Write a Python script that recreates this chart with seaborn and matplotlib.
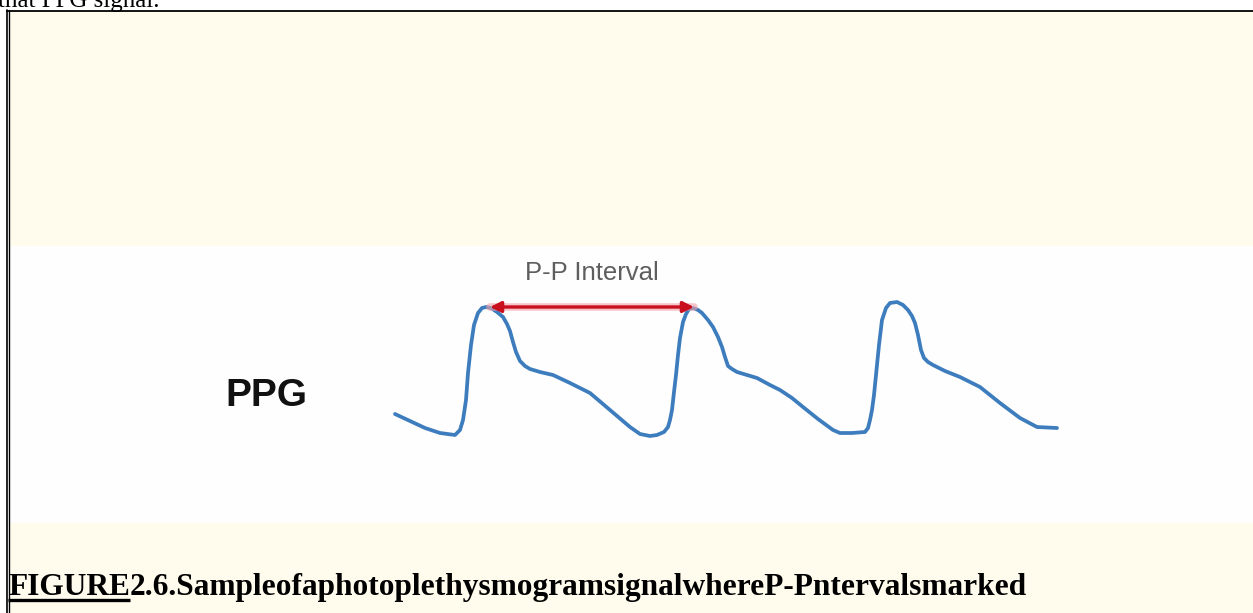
import pandas as pd
import matplotlib.pyplot as plt
import matplotlib.patches as mpatches
import seaborn as sns

# PPG trace (pixel space of the page, y grows downward)
ppg_x = [395, 410, 425, 440, 455, 460, 463, 466, 468, 471, 474, 478, 482, 486, 491,
         497, 503, 507, 510, 513, 516, 520, 525, 530, 540, 553, 570, 590, 610, 630,
         640, 650, 657, 664, 668, 670, 672, 674, 676, 678, 680, 683, 686, 689, 693,
         698, 702, 708, 713, 718, 722, 725, 728, 732, 737, 747, 757, 770, 780, 792,
         803, 818, 833, 840, 852, 865, 868, 870, 872, 874, 876, 879, 882, 886, 890,
         897, 903, 908, 912, 915, 918, 921, 924, 928, 933, 945, 960, 980, 1000, 1020,
         1037, 1057]
ppg_y = [414, 421, 428, 433, 435, 430, 420, 400, 373, 345, 325, 313, 308, 307, 308,
         312, 317, 324, 331, 342, 352, 361, 366, 369, 372, 375, 383, 393, 410, 427,
         434, 436, 435, 432, 427, 420, 410, 392, 375, 355, 338, 322, 314, 309, 308,
         310, 313, 320, 327, 337, 347, 357, 366, 369, 372, 375, 378, 385, 390, 398,
         407, 419, 430, 433, 433, 432, 428, 420, 410, 395, 375, 345, 320, 308, 303,
         302, 305, 310, 316, 323, 335, 350, 358, 362, 365, 371, 377, 387, 403, 418,
         427, 428]

# P-P interval (peak to peak)
pp_x = [490, 694]
pp_y = [307, 307]

trace_label = "PPG"
interval_label = "P-P Interval"
caption_head = "FIGURE"
caption_rest = "2.6.SampleofaphotoplethysmogramsignalwhereP-Pntervalsmarked"
top_text = "that PPG signal."

W, H = 1253, 613
cream = "#FFFCEE"

sns.set_style("white")
fig = plt.figure(figsize=(W / 100, H / 100), dpi=100)
fig.patch.set_facecolor("white")
ax = fig.add_axes([0, 0, 1, 1])

# page boxes
ax.add_patch(mpatches.Rectangle((10, 11), W - 10, 235, color=cream, lw=0, zorder=0))
ax.add_patch(mpatches.Rectangle((10, 246), W - 10, 277, color="#FEFEFE", lw=0, zorder=0))
ax.add_patch(mpatches.Rectangle((10, 523), W - 10, H - 523, color=cream, lw=0, zorder=0))
ax.plot([6, W], [10.5, 10.5], color="black", lw=1.3, solid_capstyle="butt")
ax.plot([6.5, 6.5], [10, H], color="black", lw=1.2)
ax.plot([9, 9], [10, H], color="black", lw=1.0)

# text cut off above the box, as in the page
ax.text(-2, 7, top_text, fontsize=18, family="Liberation Serif", ha="left",
        va="baseline", color="black")

# the waveform
df = pd.DataFrame({"x": ppg_x, "y": ppg_y})
sns.lineplot(data=df, x="x", y="y", ax=ax, sort=False, estimator=None,
             color="#3d7dbd", lw=2.7, zorder=3)
ax.lines[-1].set_solid_joinstyle("round")
ax.lines[-1].set_solid_capstyle("round")
ax.set_xlim(0, W)
ax.set_ylim(H, 0)
ax.axis("off")

# P-P interval arrow
ax.plot(pp_x, pp_y, color="#f2a0a8", lw=5.5, alpha=0.6, zorder=4)
ax.annotate("", xy=(pp_x[0], pp_y[0]), xytext=(pp_x[1], pp_y[1]),
            arrowprops=dict(arrowstyle="<|-|>", color="#c8101e", lw=2.4,
                            mutation_scale=16, shrinkA=0, shrinkB=0), zorder=5)
ax.text((pp_x[0] + pp_x[1]) / 2, 273, interval_label, fontsize=18.5,
        family="Liberation Sans", color="#5e5e5e", ha="center", va="center")

ax.text(266, 396, trace_label, fontsize=28, family="Liberation Sans",
        fontweight="bold", color="#111111", ha="center", va="center")

# caption with underlined head
cap_kw = dict(fontsize=22.6, family="Liberation Serif", fontweight="bold",
              ha="left", va="baseline", color="black")
t1 = ax.text(8, 595, caption_head, **cap_kw)
fig.canvas.draw()
bb = t1.get_window_extent().transformed(ax.transData.inverted())
ax.text(bb.x1, 595, caption_rest, **cap_kw)
ax.plot([8, bb.x1], [600, 600], color="black", lw=2.4, solid_capstyle="butt")

fig.savefig("out.png", dpi=100, facecolor="white")
